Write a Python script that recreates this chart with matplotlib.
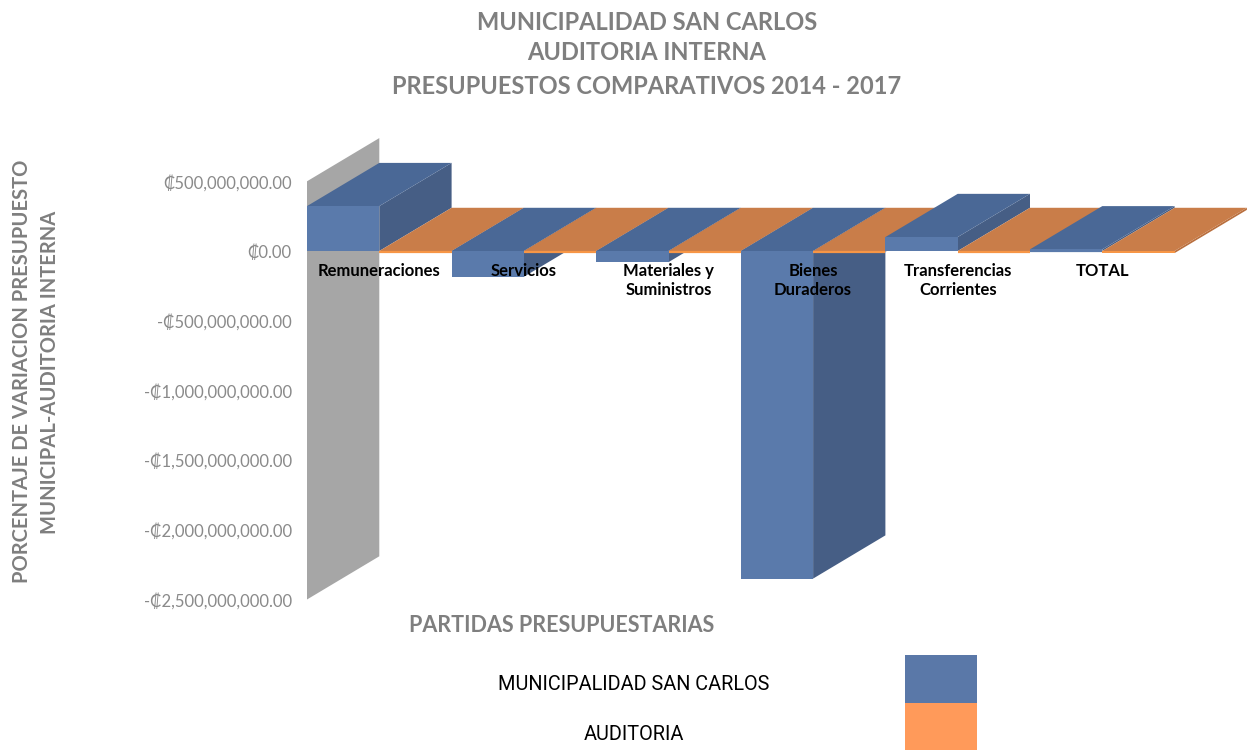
import matplotlib
matplotlib.use('Agg')
import matplotlib.pyplot as plt
from matplotlib import font_manager as fm
from matplotlib.patches import Polygon, Rectangle

plt.rcParams['font.family'] = ['Lato', 'DejaVu Sans']

# datos (diferencias por partida, en colones)
categorias = ['Remuneraciones', 'Servicios', 'Materiales y\nSuministros',
              'Bienes\nDuraderos', 'Transferencias\nCorrientes', 'TOTAL']
municipalidad = [322e6, -185e6, -80e6, -2350e6, 100e6, 12e6]
auditoria = [-8e6, -6e6, -6e6, -6e6, -6e6, -15e6]
yticks = [500e6, 0, -500e6, -1000e6, -1500e6, -2000e6, -2500e6]
series = ['MUNICIPALIDAD SAN CARLOS', 'AUDITORIA']

# colores
AZUL = dict(front='#5A7AAB', side='#465E85', top='#4A6896')
NARANJA = dict(front='#F79646', side='#B96F3E', top='#C97D49')
GRIS = '#A6A6A6'
TXT = '#7F7F7F'

# profundidad del efecto 3D (en unidades de datos)
DX = 1.0
DY = 0.31e9

W, H = 1250, 750
fig = plt.figure(figsize=(12.5, 7.5), dpi=100)


def px_to_val(py):
    return (251 - py) / 69.7 * 500e6


ax = fig.add_axes([307 / W, (H - 610) / H, (W - 307) / W, (610 - 120) / H])
ax.set_xlim(0, (W - 307) / 72.3)
ax.set_ylim(px_to_val(610), px_to_val(120))
for s in ax.spines.values():
    s.set_visible(False)
ax.set_xticks([])
ax.set_yticks(yticks)


def fmt(v):
    s = f'\u20a1{abs(v):,.2f}'
    return '-' + s if v < 0 else s


ax.set_yticklabels([fmt(v) for v in yticks], color='#8A8A8A', fontsize=12)
ax.tick_params(axis='y', length=0, pad=11)


def barra(x0, v, c):
    lo, hi = min(0, v), max(0, v)
    x1 = x0 + 1
    side = [(x1, lo), (x1, hi), (x1 + DX, hi + DY), (x1 + DX, lo + DY)]
    top = [(x0, hi), (x1, hi), (x1 + DX, hi + DY), (x0 + DX, hi + DY)]
    ax.add_patch(Polygon(side, closed=True, fc=c['side'], ec='none', clip_on=False))
    ax.add_patch(Polygon(top, closed=True, fc=c['top'], ec='none', clip_on=False))
    ax.add_patch(Rectangle((x0, lo), 1, hi - lo, fc=c['front'], ec='none', clip_on=False))
    if hi - lo < 15e6:
        ax.plot([x0, x1], [lo, lo], color=c['front'], lw=1.6, solid_capstyle='butt')


# pared lateral
ax.add_patch(Polygon([(0, yticks[-1]), (0, yticks[0]), (DX, yticks[0] + DY),
                      (DX, yticks[-1] + DY)], closed=True, fc=GRIS, ec='none'))

for i, cat in enumerate(categorias):
    barra(2 * i, municipalidad[i], AZUL)
    barra(2 * i + 1, auditoria[i], NARANJA)
    ax.text(2 * i + 1, -0.085e9, cat, ha='center', va='top', fontsize=12,
            fontweight='bold', color='black', linespacing=1.25)

# titulos
for yy, t in [(22, 'MUNICIPALIDAD SAN CARLOS'), (53, 'AUDITORIA INTERNA'),
              (87, 'PRESUPUESTOS COMPARATIVOS 2014 - 2017')]:
    fig.text(647 / W, 1 - yy / H, t, ha='center', va='center',
             fontsize=17, fontweight='bold', color=TXT)

fig.text(22 / W, 1 - 371 / H, 'PORCENTAJE DE VARIACION PRESUPUESTO', rotation=90,
         ha='center', va='center', fontsize=14.5, fontweight='bold', color=TXT)
fig.text(50 / W, 1 - 372 / H, 'MUNICIPAL-AUDITORIA INTERNA', rotation=90,
         ha='center', va='center', fontsize=14.5, fontweight='bold', color=TXT)

fig.text(562 / W, 1 - 626 / H, 'PARTIDAS PRESUPUESTARIAS', ha='center', va='center',
         fontsize=15.5, fontweight='bold', color=TXT)

# leyenda (texto ajustado al ancho del original)
leg = []
for yy, t in [(684, series[0]), (734, series[1])]:
    leg.append(fig.text(634 / W, 1 - yy / H, t, ha='center', va='center',
                        family=['Roboto', 'DejaVu Sans'], fontsize=20, color='black'))
ren = fig.canvas.get_renderer()
ancho = leg[0].get_window_extent(ren).width
tam = 20 * 272 / ancho
for t in leg:
    t.set_fontsize(tam)

fig.patches.append(Rectangle((905 / W, 1 - 703 / H), 72 / W, 48 / H,
                             transform=fig.transFigure, fc='#5A78A8', ec='none'))
fig.patches.append(Rectangle((905 / W, 0), 72 / W, 47 / H,
                             transform=fig.transFigure, fc='#FF9A5A', ec='none'))

fig.savefig('out.png', dpi=100)
